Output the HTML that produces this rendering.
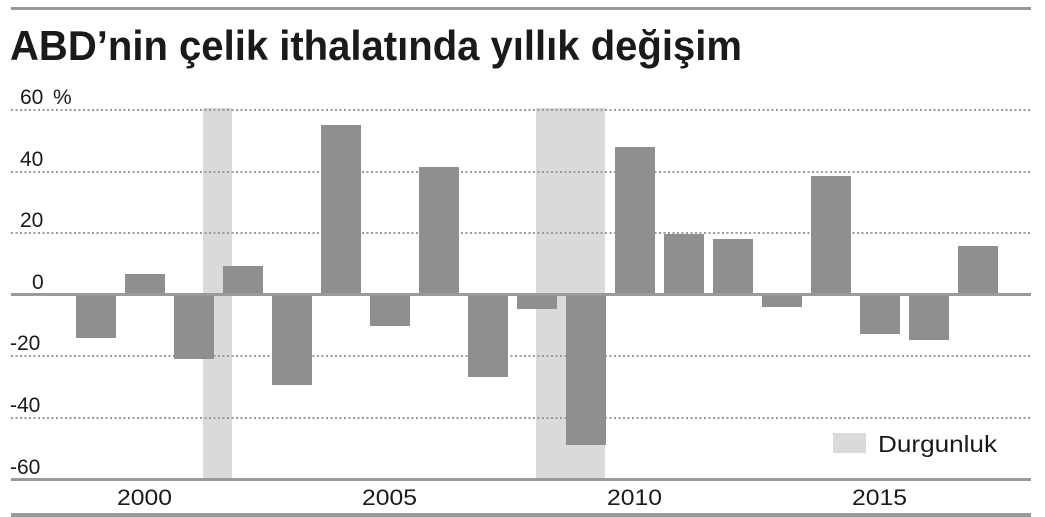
<!DOCTYPE html>
<html><head><meta charset="utf-8"><style>
html,body{margin:0;padding:0;background:#fff;}
svg{display:block;}
text{font-family:"Liberation Sans",sans-serif;fill:#1a1a1a;}
</style></head><body>
<svg width="1045" height="517" viewBox="0 0 1045 517" xmlns="http://www.w3.org/2000/svg">
<rect x="11" y="7" width="1020" height="3" fill="#999"/>
<text x="10" y="60" font-size="42" font-weight="bold" textLength="732" lengthAdjust="spacingAndGlyphs">ABD’nin çelik ithalatında yıllık değişim</text>
<!-- recession -->
<rect x="203" y="108" width="29" height="371" fill="#dadadb"/>
<rect x="536" y="108" width="69" height="371" fill="#dadadb"/>
<!-- grid -->
<g stroke="#9a9a9a" stroke-width="2" stroke-dasharray="2,2.5">
<line x1="11" y1="110" x2="1030" y2="110"/>
<line x1="11" y1="172" x2="1030" y2="172"/>
<line x1="11" y1="233" x2="1030" y2="233"/>
<line x1="11" y1="356" x2="1030" y2="356"/>
<line x1="11" y1="418" x2="1030" y2="418"/>
</g>
<g font-size="21">
<text x="20" y="104">60</text>
<text x="53" y="104">%</text>
<text x="20" y="166">40</text>
<text x="20" y="227">20</text>
<text x="32" y="289">0</text>
<text x="10" y="350">-20</text>
<text x="10" y="412">-40</text>
<text x="10" y="474">-60</text>
</g>
<!-- bars -->
<g fill="#8f8f91">
<rect x="76" y="295" width="40" height="43"/>
<rect x="125" y="274" width="40" height="21"/>
<rect x="174" y="295" width="40" height="64"/>
<rect x="223" y="266" width="40" height="29"/>
<rect x="272" y="295" width="40" height="90"/>
<rect x="321" y="125" width="40" height="170"/>
<rect x="370" y="295" width="40" height="31"/>
<rect x="419" y="167" width="40" height="128"/>
<rect x="468" y="295" width="40" height="82"/>
<rect x="517" y="295" width="40" height="14"/>
<rect x="566" y="295" width="40" height="150"/>
<rect x="615" y="147" width="40" height="148"/>
<rect x="664" y="234" width="40" height="61"/>
<rect x="713" y="239" width="40" height="56"/>
<rect x="762" y="295" width="40" height="12"/>
<rect x="811" y="176" width="40" height="119"/>
<rect x="860" y="295" width="40" height="39"/>
<rect x="909" y="295" width="40" height="45"/>
<rect x="958" y="246" width="40" height="49"/>
</g>
<rect x="11" y="293" width="1020" height="3" fill="#9a9a9a"/>
<rect x="11" y="478" width="1020" height="3" fill="#9a9a9a"/>
<rect x="11" y="513" width="1020" height="4" fill="#999"/>
<g font-size="22">
<text x="117" y="505" textLength="55" lengthAdjust="spacingAndGlyphs">2000</text>
<text x="362" y="505" textLength="55" lengthAdjust="spacingAndGlyphs">2005</text>
<text x="607" y="505" textLength="55" lengthAdjust="spacingAndGlyphs">2010</text>
<text x="852" y="505" textLength="55" lengthAdjust="spacingAndGlyphs">2015</text>
</g>
<rect x="833" y="433" width="33" height="20" fill="#dadadb"/>
<text x="878" y="452" font-size="23" textLength="119" lengthAdjust="spacingAndGlyphs">Durgunluk</text>
</svg>
</body></html>
